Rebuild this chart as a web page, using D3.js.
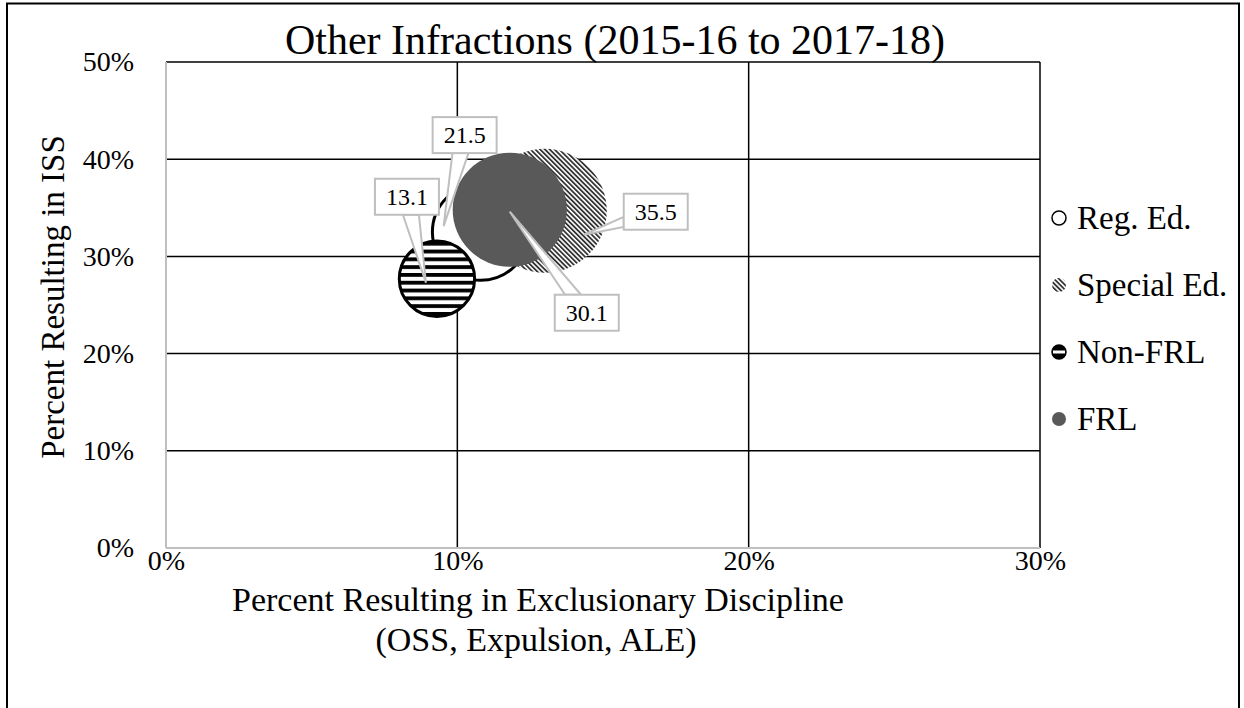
<!DOCTYPE html>
<html>
<head>
<meta charset="utf-8">
<script src="https://cdn.jsdelivr.net/npm/d3@7"></script>
<style>
  body { margin: 0; background: #fff; }
  svg text { font-family: "Liberation Serif", "Times New Roman", serif; fill: #000; }
</style>
</head>
<body>
<div id="chart"></div>
<script>
// data
const groups = ["Reg. Ed.", "Special Ed.", "Non-FRL", "FRL"];
const exclRate = [0.108, 0.130, 0.093, 0.118];   // x
const issRate = [0.325, 0.347, 0.277, 0.348];    // y
const bubbleSize = [21.5, 35.5, 13.1, 30.1];
const xTickValues = [0, 0.1, 0.2, 0.3];
const yTickValues = [0, 0.1, 0.2, 0.3, 0.4, 0.5];

// label callout placement, px relative to bubble centre
const callouts = [
  { box: [-16, -97], tip: [-37, -6] },
  { box: [111, 1], tip: [39, 24] },
  { box: [-30, -82], tip: [-11, 4] },
  { box: [77, 103], tip: [0, 2] }
];

const W = 1244, H = 708;
const plot = { left: 166, right: 1040, top: 62, bottom: 548 };

const svg = d3.select("#chart").append("svg")
  .attr("width", W).attr("height", H);

const defs = svg.append("defs");
// special ed: diagonal stripes
const p1 = defs.append("pattern").attr("id", "diag")
  .attr("patternUnits", "userSpaceOnUse")
  .attr("width", 3.4).attr("height", 10)
  .attr("patternTransform", "rotate(-45)");
p1.append("rect").attr("width", 3.4).attr("height", 10).attr("fill", "#fff");
p1.append("rect").attr("width", 1.8).attr("height", 10).attr("fill", "#333");
// non-FRL: horizontal stripes
const p2 = defs.append("pattern").attr("id", "horiz")
  .attr("patternUnits", "userSpaceOnUse")
  .attr("width", 10).attr("height", 7.8);
p2.append("rect").attr("width", 10).attr("height", 7.8).attr("fill", "#fff");
p2.append("rect").attr("width", 10).attr("height", 3.8).attr("fill", "#000");

const fills = ["#fff", "url(#diag)", "url(#horiz)", "#595959"];
const strokes = ["#000", "none", "#000", "none"];

// outer frame
svg.append("rect")
  .attr("x", 7).attr("y", 3.5).attr("width", 1232).attr("height", 720)
  .attr("fill", "none").attr("stroke", "#000").attr("stroke-width", 2);

const x = d3.scaleLinear().domain([0, 0.3]).range([plot.left, plot.right]);
const y = d3.scaleLinear().domain([0, 0.5]).range([plot.bottom, plot.top]);
const r = d3.scaleSqrt().domain([0, 35.5]).range([0, 62]);

// gridlines
svg.append("g")
  .selectAll("line.h")
  .data(yTickValues.filter(d => d > 0))
  .enter().append("line")
  .attr("x1", plot.left).attr("x2", plot.right)
  .attr("y1", d => y(d)).attr("y2", d => y(d))
  .attr("stroke", "#000").attr("stroke-width", 1.5);

svg.append("g")
  .selectAll("line.v")
  .data(xTickValues.filter(d => d > 0))
  .enter().append("line")
  .attr("y1", plot.top).attr("y2", plot.bottom)
  .attr("x1", d => x(d)).attr("x2", d => x(d))
  .attr("stroke", "#000").attr("stroke-width", 1.5);

// axes lines (gray)
svg.append("line")
  .attr("x1", plot.left).attr("x2", plot.left)
  .attr("y1", plot.top).attr("y2", plot.bottom)
  .attr("stroke", "#bfbfbf").attr("stroke-width", 2);
svg.append("line")
  .attr("x1", plot.left).attr("x2", plot.right)
  .attr("y1", plot.bottom).attr("y2", plot.bottom)
  .attr("stroke", "#bfbfbf").attr("stroke-width", 2);

// tick labels via axes
const yAxis = svg.append("g")
  .attr("transform", "translate(" + (plot.left - 32) + ",0)")
  .call(d3.axisLeft(y).tickValues(yTickValues).tickFormat(d3.format(".0%")).tickSize(0).tickPadding(0));
yAxis.select(".domain").remove();
yAxis.selectAll("text").style("font-size", "28px")
  .style("font-family", '"Liberation Serif", serif');

const xAxis = svg.append("g")
  .attr("transform", "translate(0," + (plot.bottom + 2) + ")")
  .call(d3.axisBottom(x).tickValues(xTickValues).tickFormat(d3.format(".0%")).tickSize(0).tickPadding(0));
xAxis.select(".domain").remove();
xAxis.selectAll("text").style("font-size", "28px")
  .style("font-family", '"Liberation Serif", serif');

// bubbles
const idx = d3.range(groups.length);
svg.append("g")
  .selectAll("circle")
  .data(idx)
  .enter().append("circle")
  .attr("cx", i => x(exclRate[i]))
  .attr("cy", i => y(issRate[i]))
  .attr("r", i => r(bubbleSize[i]))
  .attr("fill", i => fills[i])
  .attr("stroke", i => strokes[i])
  .attr("stroke-width", 3);

// data label callouts
const bw = 64, bh = 36;
const lab = svg.append("g");
idx.forEach(function (i) {
  const cx = x(exclRate[i]), cy = y(issRate[i]);
  const bx = cx + callouts[i].box[0], by = cy + callouts[i].box[1];
  const tx = cx + callouts[i].tip[0], ty = cy + callouts[i].tip[1];
  // find where the line box-centre -> tip leaves the box
  const dx = tx - bx, dy = ty - by;
  const s = Math.min(Math.abs((bw / 2) / (dx || 1e-6)), Math.abs((bh / 2) / (dy || 1e-6)));
  const ex = bx + dx * s, ey = by + dy * s;
  let base;
  if (Math.abs(dx * s) >= bw / 2 - 0.01) base = [[ex, ey - 5], [ex, ey + 5]];
  else base = [[ex - 8, ey], [ex + 8, ey]];
  lab.append("path")
    .attr("d", "M" + base[0] + "L" + tx + "," + ty + "L" + base[1] + "Z")
    .attr("fill", "#fff").attr("stroke", "#bfbfbf").attr("stroke-width", 2);
  lab.append("rect")
    .attr("x", bx - bw / 2).attr("y", by - bh / 2)
    .attr("width", bw).attr("height", bh)
    .attr("fill", "#fff").attr("stroke", "#bfbfbf").attr("stroke-width", 2);
  lab.append("text")
    .attr("x", bx).attr("y", by + 8)
    .attr("text-anchor", "middle")
    .style("font-size", "24px")
    .text(bubbleSize[i].toFixed(1));
});

// title
svg.append("text")
  .attr("x", 615).attr("y", 54)
  .attr("text-anchor", "middle")
  .style("font-size", "42px")
  .text("Other Infractions (2015-16 to 2017-18)");

// axis titles
svg.append("text")
  .attr("transform", "translate(64,297)rotate(-90)")
  .attr("text-anchor", "middle")
  .style("font-size", "33px")
  .text("Percent Resulting in ISS");

svg.append("text")
  .attr("x", 538).attr("y", 611)
  .attr("text-anchor", "middle")
  .style("font-size", "34px")
  .text("Percent Resulting in Exclusionary Discipline");
svg.append("text")
  .attr("x", 536).attr("y", 651)
  .attr("text-anchor", "middle")
  .style("font-size", "34px")
  .text("(OSS, Expulsion, ALE)");

// legend
const leg = svg.append("g").attr("transform", "translate(1059,0)");
const legY = [218, 285, 352, 419];
idx.forEach(function (i) {
  const g = leg.append("g").attr("transform", "translate(0," + legY[i] + ")");
  if (i === 2) {
    g.append("circle").attr("r", 7).attr("fill", "#000");
    g.append("rect").attr("x", -6).attr("y", -1.5).attr("width", 12).attr("height", 3).attr("fill", "#fff");
    g.append("circle").attr("r", 7).attr("fill", "none").attr("stroke", "#000").attr("stroke-width", 1.5);
  } else {
    g.append("circle").attr("r", 7)
      .attr("fill", fills[i])
      .attr("stroke", strokes[i]).attr("stroke-width", 1.5);
  }
  g.append("text").attr("x", 18).attr("y", 11)
    .style("font-size", "33px")
    .text(groups[i]);
});
</script>
</body>
</html>
